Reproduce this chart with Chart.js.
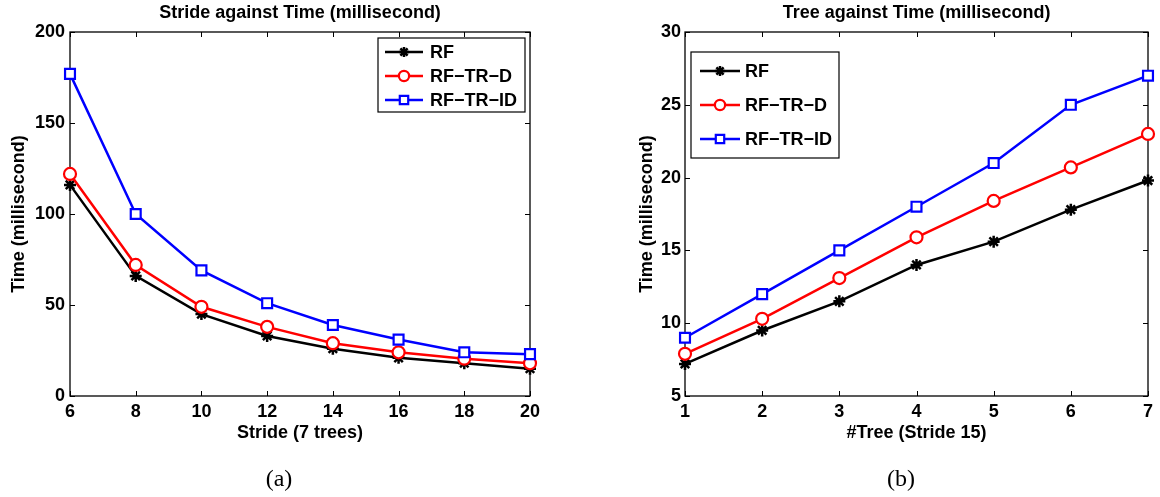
<!DOCTYPE html>
<html>
<head>
<meta charset="utf-8">
<script src="https://cdn.jsdelivr.net/npm/chart.js@4.4.0/dist/chart.umd.min.js"></script>
<style>
  body { margin: 0; background: #fff; width: 1160px; height: 497px; position: relative; overflow: hidden; }
  .box { position: absolute; top: 0; height: 497px; }
  .cap { position: absolute; font-family: "Liberation Serif", "DejaVu Serif", serif; font-size: 24px; transform: translate(-50%, -50%); color: #000; }
</style>
</head>
<body>
<div class="box" style="left:0;width:580px"><canvas id="chartA"></canvas></div>
<div class="box" style="left:620px;width:540px"><canvas id="chartB"></canvas></div>
<div class="cap" style="left:279px;top:478px">(a)</div>
<div class="cap" style="left:901px;top:478px">(b)</div>
<script>
// values
var seriesNames = ['RF', 'RF\u2212TR\u2212D', 'RF\u2212TR\u2212ID'];

// (a) stride, 7 trees
var strideX = [6, 8, 10, 12, 14, 16, 18, 20];
var strideRF = [116, 66, 45, 33, 26, 21, 18, 15];
var strideRFTRD = [122, 72, 49, 38, 29, 24, 20.5, 18];
var strideRFTRID = [177, 100, 69, 51, 39, 31, 24, 23];

// (b) number of trees, stride 15
var treeX = [1, 2, 3, 4, 5, 6, 7];
var treeRF = [7.2, 9.5, 11.5, 14, 15.6, 17.8, 19.8];
var treeRFTRD = [7.9, 10.3, 13.1, 15.9, 18.4, 20.7, 23];
var treeRFTRID = [9, 12, 15, 18, 21, 25, 27];

var FONT = '"Liberation Sans", Arial, sans-serif';
var styles = [
  { color: '#000000', pointStyle: 'star', radius: 6, bw: 2.5 },
  { color: '#ff0000', pointStyle: 'circle', radius: 6, bw: 2.2 },
  { color: '#0000ff', pointStyle: 'rect', radius: 7, bw: 2.2 }
];

function series(xs, ys, i) {
  var s = styles[i];
  return {
    label: seriesNames[i],
    data: xs.map(function (x, k) { return { x: x, y: ys[k] }; }),
    borderColor: s.color,
    backgroundColor: '#fff',
    borderWidth: 2.5,
    pointStyle: s.pointStyle,
    pointRadius: s.radius,
    pointBorderWidth: s.bw,
    pointBorderColor: s.color,
    pointBackgroundColor: '#fff',
    tension: 0,
    clip: false,
    order: 3 - i
  };
}

// matlab style box, inward ticks, title and legend
var matlabFrame = {
  id: 'matlabFrame',
  beforeDatasetsDraw: function (chart, args, opts) {
    var a = chart.chartArea, ctx = chart.ctx;
    var sx = chart.scales.x, sy = chart.scales.y;
    ctx.save();
    ctx.strokeStyle = '#000';
    ctx.lineWidth = 1.3;
    ctx.strokeRect(a.left, a.top, a.right - a.left, a.bottom - a.top);
    ctx.beginPath();
    var len = 5;
    sx.ticks.forEach(function (t) {
      var px = Math.round(sx.getPixelForValue(t.value)) + 0.5;
      ctx.moveTo(px, a.bottom); ctx.lineTo(px, a.bottom - len);
      ctx.moveTo(px, a.top); ctx.lineTo(px, a.top + len);
    });
    sy.ticks.forEach(function (t) {
      var py = Math.round(sy.getPixelForValue(t.value)) + 0.5;
      ctx.moveTo(a.left, py); ctx.lineTo(a.left + len, py);
      ctx.moveTo(a.right, py); ctx.lineTo(a.right - len, py);
    });
    ctx.lineWidth = 1;
    ctx.stroke();
    ctx.fillStyle = '#000';
    ctx.font = 'bold 18px ' + FONT;
    ctx.textAlign = 'center';
    ctx.textBaseline = 'middle';
    ctx.fillText(opts.title, (a.left + a.right) / 2, 13);
    ctx.restore();
  },
  afterDraw: function (chart, args, opts) {
    var ctx = chart.ctx, L = opts.legend;
    ctx.save();
    ctx.fillStyle = '#fff';
    ctx.fillRect(L.x, L.y, L.w, L.h);
    ctx.strokeStyle = '#000';
    ctx.lineWidth = 1.2;
    ctx.strokeRect(L.x, L.y, L.w, L.h);
    chart.data.datasets.forEach(function (ds, i) {
      var y = L.y + L.first + i * L.step;
      ctx.strokeStyle = ds.borderColor;
      ctx.lineWidth = ds.borderWidth;
      ctx.beginPath();
      ctx.moveTo(L.x + L.l0, y);
      ctx.lineTo(L.x + L.l1, y);
      ctx.stroke();
      ctx.fillStyle = '#fff';
      ctx.lineWidth = ds.pointBorderWidth;
      Chart.helpers.drawPoint(ctx, {
        pointStyle: ds.pointStyle, rotation: 0,
        radius: ds.pointRadius * 0.85, borderWidth: ds.pointBorderWidth
      }, L.x + (L.l0 + L.l1) / 2, y);
      ctx.fillStyle = '#000';
      ctx.font = 'bold 18px ' + FONT;
      ctx.textAlign = 'left';
      ctx.textBaseline = 'middle';
      ctx.fillText(ds.label, L.x + L.tx, y + 1);
    });
    ctx.restore();
  }
};

function makeChart(id, cfg) {
  var tickFont = { family: FONT, size: 18, weight: 'bold' };
  return new Chart(document.getElementById(id), {
    type: 'line',
    data: { datasets: cfg.datasets },
    plugins: [matlabFrame],
    options: {
      responsive: true,
      maintainAspectRatio: false,
      animation: false,
      layout: { padding: cfg.pad },
      plugins: {
        legend: { display: false },
        tooltip: { enabled: false },
        matlabFrame: { title: cfg.title, legend: cfg.legend }
      },
      scales: {
        x: {
          type: 'linear', min: cfg.xMin, max: cfg.xMax,
          ticks: { stepSize: cfg.xStep, font: tickFont, color: '#000', padding: 5, maxRotation: 0, autoSkip: false },
          grid: { display: false, drawTicks: false },
          border: { display: false },
          title: { display: true, text: cfg.xTitle, font: tickFont, color: '#000', padding: { top: 0, bottom: 0 } },
          afterFit: function (s) { s.height = 48; }
        },
        y: {
          type: 'linear', min: cfg.yMin, max: cfg.yMax,
          ticks: { stepSize: cfg.yStep, font: tickFont, color: '#000', padding: cfg.yTickPad },
          grid: { display: false, drawTicks: false },
          border: { display: false },
          title: { display: true, text: 'Time (millisecond)', font: tickFont, color: '#000', padding: { top: cfg.yTitlePad, bottom: 0 } },
          afterFit: function (s) { s.width = cfg.yWidth; }
        }
      }
    }
  });
}

makeChart('chartA', {
  datasets: [series(strideX, strideRF, 0), series(strideX, strideRFTRD, 1), series(strideX, strideRFTRID, 2)],
  title: 'Stride against Time (millisecond)',
  xTitle: 'Stride (7 trees)',
  xMin: 6, xMax: 20, xStep: 2,
  yMin: 0, yMax: 200, yStep: 50,
  yWidth: 70, yTitlePad: 8, yTickPad: 5,
  pad: { left: 0, top: 32, right: 50, bottom: 53 },
  legend: { x: 378, y: 38, w: 147, h: 74, first: 14, step: 24, l0: 7, l1: 45, tx: 52 }
});

makeChart('chartB', {
  datasets: [series(treeX, treeRF, 0), series(treeX, treeRFTRD, 1), series(treeX, treeRFTRID, 2)],
  title: 'Tree against Time (millisecond)',
  xTitle: '#Tree (Stride 15)',
  xMin: 1, xMax: 7, xStep: 1,
  yMin: 5, yMax: 30, yStep: 5,
  yWidth: 65, yTitlePad: 16, yTickPad: 4,
  pad: { left: 0, top: 32, right: 12, bottom: 53 },
  legend: { x: 71, y: 52, w: 148, h: 106, first: 19, step: 34, l0: 9, l1: 49, tx: 54 }
});
</script>
</body>
</html>
